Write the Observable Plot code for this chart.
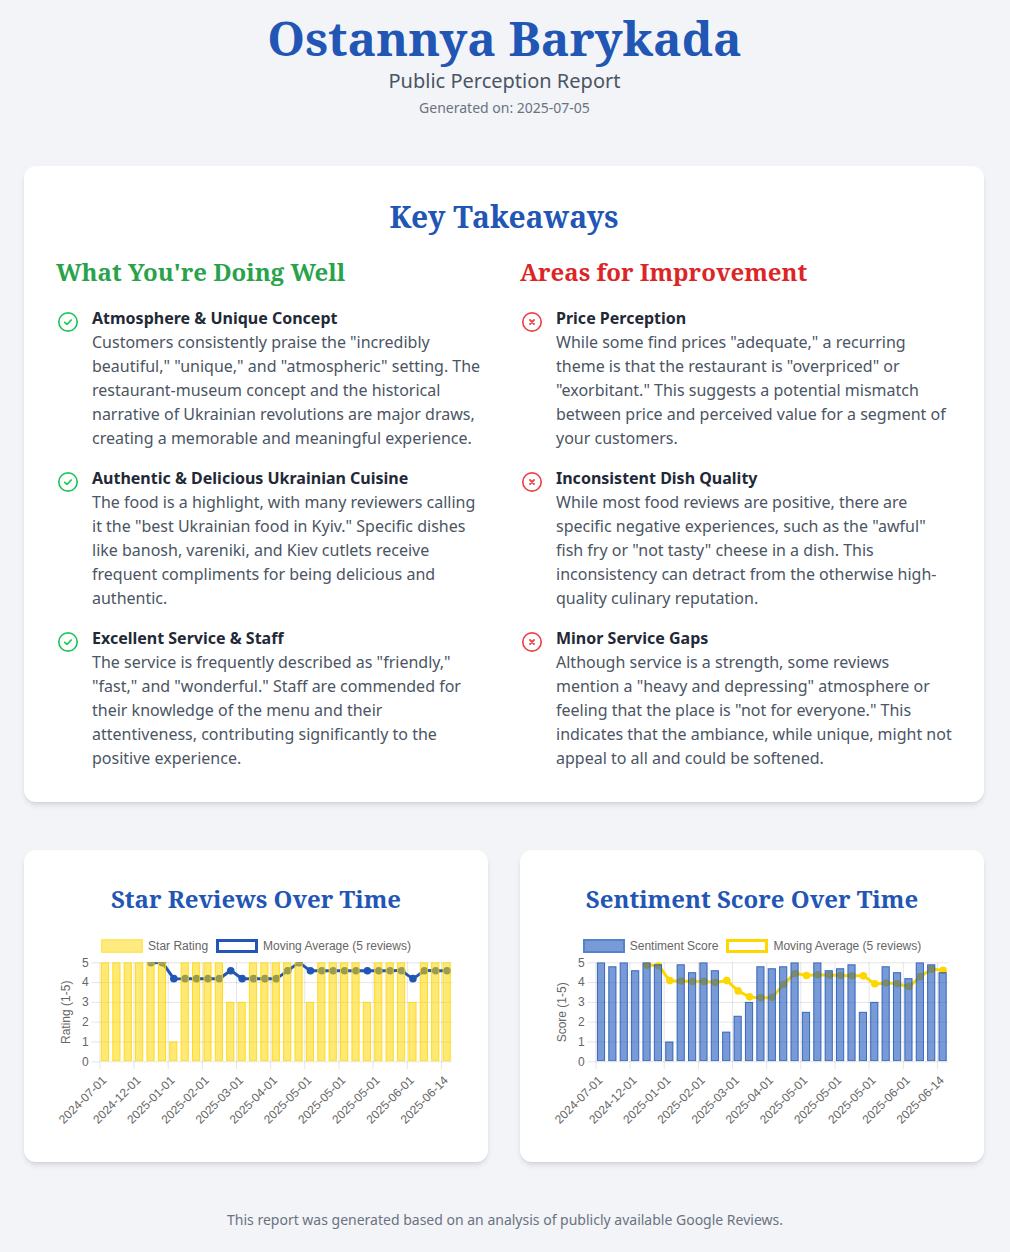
<!DOCTYPE html>
<html lang="en">
<head>
<meta charset="utf-8">
<title>Ostannya Barykada - Public Perception Report</title>
<script src="https://cdn.jsdelivr.net/npm/d3@7"></script>
<script src="https://cdn.jsdelivr.net/npm/@observablehq/plot@0.6"></script>
<style>
*{box-sizing:border-box}
html,body{margin:0;padding:0}
body{background:#f2f4f8;font-family:"Noto Sans",sans-serif;color:#4b5563;width:1010px;height:1252px;overflow:hidden;position:relative}
.serif{font-family:"Noto Serif","DejaVu Serif",serif;font-weight:700}
header{text-align:center;padding-top:7.5px;height:166px;width:1009px}
h1{margin:0;font-size:48px;line-height:60px;color:#2256b4;letter-spacing:0}
.sub{font-size:20px;line-height:28px;color:#4b5563;margin-top:-0.5px}
.gen{font-size:14px;line-height:20px;color:#6b7280;margin-top:3px}
.card{position:absolute;background:#fff;border-radius:12px;box-shadow:0 4px 6px -1px rgba(0,0,0,.1),0 2px 4px -2px rgba(0,0,0,.1)}
#takeaways{left:24px;top:166px;width:960px;height:636px;padding:32px}
h2{margin:0;text-align:center;font-size:30px;line-height:38px;color:#2256b4}
.cols{display:grid;grid-template-columns:432px 432px;column-gap:32px;margin-top:20px}
h3{margin:0 0 18px;font-size:24px;line-height:32px}
.good h3{color:#28a34a}.bad h3{color:#dc2626}
.item{display:flex;gap:12px;margin-bottom:16px;font-size:16px;line-height:24px}
.item svg{flex:none;width:24px;height:24px;margin-top:4px}
.item b{display:block;color:#1f2937;font-weight:700}
.chart-card{top:850px;width:464px;height:312px;padding:0 20px}
.chart-card h2{font-size:24px;line-height:32px;margin-top:33px}
.legend{display:flex;justify-content:center;align-items:center;height:17px;margin-top:22px;font:12px "Liberation Sans",Arial,sans-serif;color:#666;white-space:nowrap}
.legend i{display:inline-block;width:42px;height:14px;margin-right:5px;background-clip:padding-box!important}
.legend span{margin-right:8px}
.legend span:last-child{margin-right:0}
.plot{position:absolute;left:20px;top:108px}
footer{position:absolute;left:0;right:0;top:1210px;text-align:center;font-size:14px;line-height:20px;color:#6b7280}
</style>
</head>
<body>
<header>
<h1 class="serif">Ostannya Barykada</h1>
<div class="sub">Public Perception Report</div>
<div class="gen">Generated on: 2025-07-05</div>
</header>

<section class="card" id="takeaways">
<h2 class="serif">Key Takeaways</h2>
<div class="cols">
<div class="good" id="goodCol"><h3 class="serif">What You're Doing Well</h3></div>
<div class="bad" id="badCol"><h3 class="serif">Areas for Improvement</h3></div>
</div>
</section>

<section class="card chart-card" style="left:24px">
<h2 class="serif">Star Reviews Over Time</h2>
<div class="legend" id="legend1"></div>
<div class="plot" id="plot1"></div>
</section>
<section class="card chart-card" style="left:520px">
<h2 class="serif">Sentiment Score Over Time</h2>
<div class="legend" id="legend2"></div>
<div class="plot" id="plot2"></div>
</section>

<footer>This report was generated based on an analysis of publicly available Google Reviews.</footer>

<script>
const reviewIndex = d3.range(31);
const tickIndex = [0,3,6,9,12,15,18,21,24,27,30];
const tickLabels = ["2024-07-01","2024-12-01","2025-01-01","2025-02-01","2025-03-01","2025-04-01","2025-05-01","2025-05-01","2025-05-01","2025-06-01","2025-06-14"];
const starRating = [5,5,5,5,5,5,1,5,5,5,5,3,3,5,5,5,5,5,3,5,5,5,5,3,5,5,5,3,5,5,5];
const starAverage = [null,null,null,null,5,5,4.2,4.2,4.2,4.2,4.2,4.6,4.2,4.2,4.2,4.2,4.6,5,4.6,4.6,4.6,4.6,4.6,4.6,4.6,4.6,4.6,4.2,4.6,4.6,4.6];
const sentimentScore = [5,4.8,5,4.6,5,4.9,1,4.9,4.5,5,4.6,1.5,2.3,3,4.8,4.7,4.8,5,2.5,5,4.6,4.7,4.9,2.5,3,4.8,4.5,4.2,5,4.9,4.5];
const sentimentAverage = [null,null,null,null,4.88,4.86,4.1,4.08,4.06,4.06,4,4.1,3.58,3.28,3.24,3.26,3.92,4.46,4.36,4.4,4.38,4.36,4.34,4.34,3.94,3.98,3.94,3.8,4.3,4.68,4.62];

const strengths = [
 ["Atmosphere & Unique Concept",'Customers consistently praise the "incredibly beautiful," "unique," and "atmospheric" setting. The restaurant-museum concept and the historical narrative of Ukrainian revolutions are major draws, creating a memorable and meaningful experience.'],
 ["Authentic & Delicious Ukrainian Cuisine",'The food is a highlight, with many reviewers calling it the "best Ukrainian food in Kyiv." Specific dishes like banosh, vareniki, and Kiev cutlets receive frequent compliments for being delicious and authentic.'],
 ["Excellent Service & Staff",'The service is frequently described as "friendly," "fast," and "wonderful." Staff are commended for their knowledge of the menu and their attentiveness, contributing significantly to the positive experience.']
];
const improvements = [
 ["Price Perception",'While some find prices "adequate," a recurring theme is that the restaurant is "overpriced" or "exorbitant." This suggests a potential mismatch between price and perceived value for a segment of your customers.'],
 ["Inconsistent Dish Quality",'While most food reviews are positive, there are specific negative experiences, such as the "awful" fish fry or "not tasty" cheese in a dish. This inconsistency can detract from the otherwise high-quality culinary reputation.'],
 ["Minor Service Gaps",'Although service is a strength, some reviews mention a "heavy and depressing" atmosphere or feeling that the place is "not for everyone." This indicates that the ambiance, while unique, might not appeal to all and could be softened.']
];

const iconCheck = '<svg viewBox="0 0 24 24" fill="none" stroke="#22c55e" stroke-width="1.7" stroke-linecap="round" stroke-linejoin="round"><circle cx="12" cy="12" r="9.2"/><path d="M8.8 12.3l2.2 2.1 4.2-4.4"/></svg>';
const iconCross = '<svg viewBox="0 0 24 24" fill="none" stroke="#ef4444" stroke-width="1.7" stroke-linecap="round"><circle cx="12" cy="12" r="9.2"/><path d="M10 10l4 4M14 10l-4 4" stroke-width="1.8"/></svg>';

function fillColumn(id, items, icon){
  const col = document.getElementById(id);
  for (const [title, text] of items){
    const d = document.createElement("div");
    d.className = "item";
    d.innerHTML = icon + "<div><b></b><span></span></div>";
    d.querySelector("b").textContent = title;
    d.querySelector("span").textContent = text;
    col.appendChild(d);
  }
}
fillColumn("goodCol", strengths, iconCheck);
fillColumn("badCol", improvements, iconCross);

function legend(id, barName, barFill, barStroke, lineName, lineColor){
  document.getElementById(id).innerHTML =
    `<i style="background:${barFill};border:2px solid ${barStroke}"></i><span>${barName}</span>` +
    `<i style="background:#fff;border:3px solid ${lineColor}"></i><span>${lineName}</span>`;
}

function drawChart(id, yLabel, values, average, barFill, barStroke, lineColor){
  const rows = reviewIndex.map(i => ({i, value: values[i], average: average[i]}));
  const avgRows = rows.filter(d => d.average !== null);
  const curve = d3.curveCardinal.tension(0.8);
  const plot = Plot.plot({
    width: 424, height: 175,
    marginLeft: 55.3, marginRight: 15.7, marginTop: 4.3, marginBottom: 71.7,
    style: {fontSize: "12px", fontFamily: '"Liberation Sans",Arial,sans-serif', color: "#666", background: "transparent", overflow: "visible"},
    x: {type: "band", domain: reviewIndex, paddingInner: 0.28, paddingOuter: 0.14, round: false, align: 0.5},
    y: {domain: [0, 5]},
    marks: [
      Plot.gridY([0,1,2,3,4,5], {stroke: "#000", strokeOpacity: 0.1, strokeWidth: 1}),
      Plot.gridX(tickIndex, {stroke: "#000", strokeOpacity: 0.1, dx: -349/31/2}),
      Plot.tickX(tickIndex, {x: d => d, stroke: "#000", strokeOpacity: 0.1, dx: -349/31/2, insetBottom: -8, insetTop: 99}),
      Plot.line(avgRows, {x: "i", y: "average", stroke: lineColor, strokeWidth: 3, curve, clip: "frame"}),
      Plot.dot(avgRows, {x: "i", y: "average", r: 3.8, fill: lineColor, clip: "frame"}),
      Plot.barY(rows, {x: "i", y: "value", fill: barFill, stroke: barStroke, strokeWidth: 1, strokeOpacity: 0.85, inset: 0.5, clip: "frame"}),
      Plot.axisY({ticks: [0,1,2,3,4,5], tickFormat: d => String(d), tickSize: 8, tickPadding: 3, stroke: "#000", strokeOpacity: 0.1, label: yLabel, labelAnchor: "center", labelArrow: "none", labelOffset: 38, fill: "#666"}),
      Plot.axisX({ticks: tickIndex, tickFormat: i => tickLabels[tickIndex.indexOf(i)], tickRotate: -45, tickSize: 0, tickPadding: 16.5, dx: -1, label: null, fill: "#666"})
    ]
  });
  document.getElementById(id).appendChild(plot);
}

legend("legend1", "Star Rating", "rgba(255,215,0,0.5)", "rgba(255,215,0,0.6)", "Moving Average (5 reviews)", "#2256b4");
legend("legend2", "Sentiment Score", "rgba(30,88,188,0.6)", "rgba(30,88,188,0.75)", "Moving Average (5 reviews)", "#ffd700");
drawChart("plot1", "Rating (1-5)", starRating, starAverage, "rgba(255,215,0,0.55)", "#ffd700", "#2256b4");
drawChart("plot2", "Score (1-5)", sentimentScore, sentimentAverage, "rgba(30,88,188,0.6)", "#2256b4", "#ffd700");
</script>
</body>
</html>
